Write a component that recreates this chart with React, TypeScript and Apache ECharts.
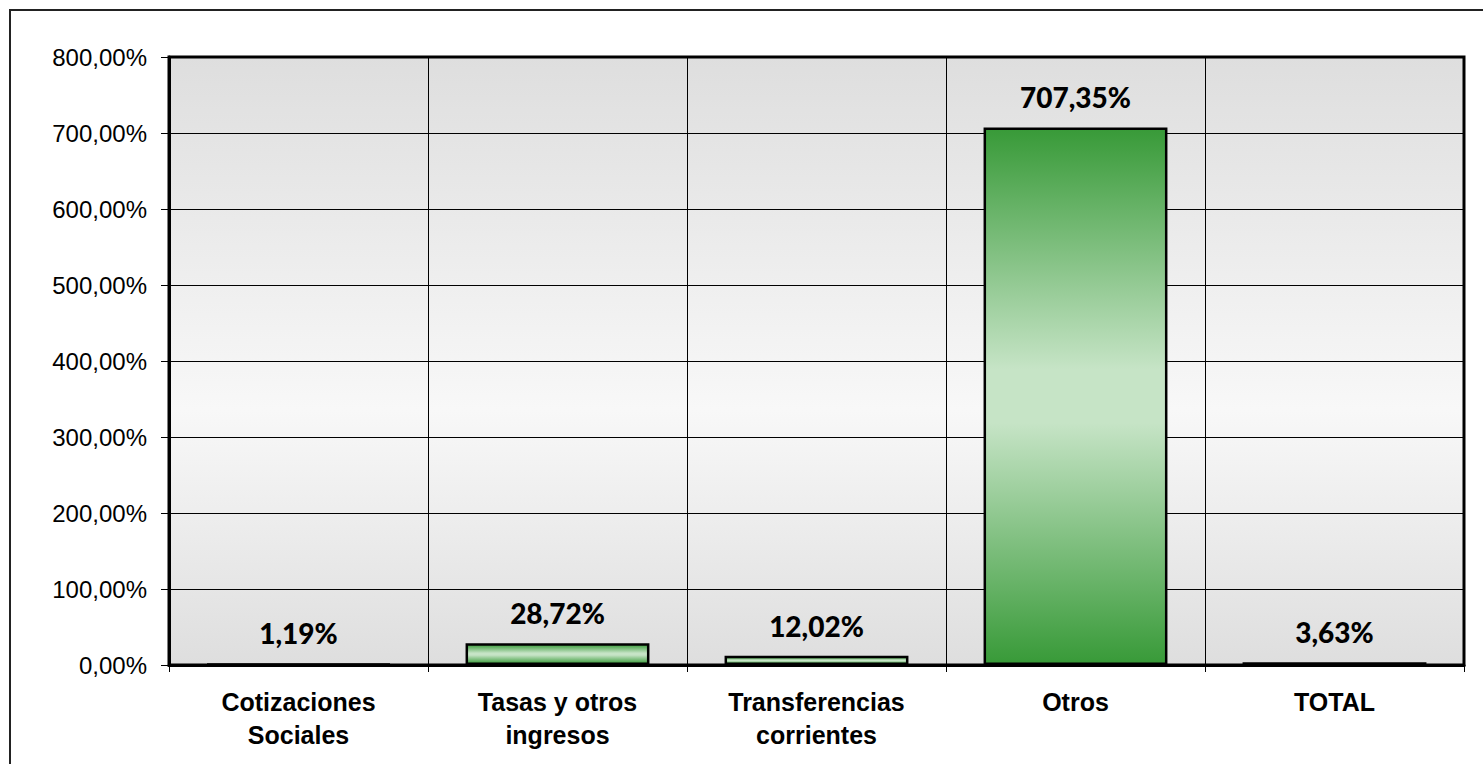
import React, { useEffect, useRef } from "react";
import * as echarts from "echarts";

const categories = [
  "Cotizaciones\nSociales",
  "Tasas y otros\ningresos",
  "Transferencias\ncorrientes",
  "Otros",
  "TOTAL",
];
const values = [1.19, 28.72, 12.02, 707.35, 3.63];
const yMin = 0;
const yMax = 800;
const yStep = 100;

const fmt = (v: number) => v.toFixed(2).replace(".", ",") + "%";

export default function App() {
  const ref = useRef<HTMLDivElement>(null);
  useEffect(() => {
    if (!ref.current) return;
    const chart = echarts.init(ref.current, null, { renderer: "svg" });
    const barGrad = new echarts.graphic.LinearGradient(0, 0, 0, 1, [
      { offset: 0, color: "#389a38" },
      { offset: 0.45, color: "#c6e4c6" },
      { offset: 0.55, color: "#c6e4c6" },
      { offset: 1, color: "#389a38" },
    ]);
    const bgGrad = new echarts.graphic.LinearGradient(0, 0, 0, 1, [
      { offset: 0, color: "#dedede" },
      { offset: 0.58, color: "#f8f8f8" },
      { offset: 1, color: "#dedede" },
    ]);
    chart.setOption({
      animation: false,
      graphic: [
        {
          type: "rect",
          shape: { x: 10, y: 10, width: 1500, height: 800 },
          style: { fill: "none", stroke: "#222", lineWidth: 2 },
          z: -1,
        },
      ],
      grid: {
        left: 169,
        right: 19,
        top: 57,
        bottom: 99,
        show: true,
        backgroundColor: bgGrad,
        borderColor: "#000",
        borderWidth: 3,
      },
      xAxis: {
        type: "category",
        data: categories,
        axisLine: { show: true, lineStyle: { color: "#000", width: 3 } },
        axisTick: { show: true, length: 7, lineStyle: { color: "#000", width: 1 } },
        splitLine: { show: true, lineStyle: { color: "#000", width: 1 } },
        axisLabel: {
          color: "#000",
          fontFamily: "Liberation Sans, Arial, sans-serif",
          fontWeight: "bold",
          fontSize: 25,
          lineHeight: 33,
          margin: 20,
          verticalAlign: "top",
        },
      },
      yAxis: {
        type: "value",
        min: yMin,
        max: yMax,
        interval: yStep,
        axisLine: { show: true, lineStyle: { color: "#000", width: 3 } },
        axisTick: { show: true, length: 8, lineStyle: { color: "#000", width: 1 } },
        splitLine: { show: true, lineStyle: { color: "#000", width: 1 } },
        axisLabel: {
          color: "#000",
          fontFamily: "Liberation Sans, Arial, sans-serif",
          fontSize: 24,
          margin: 22,
          formatter: (v: number) => fmt(v),
        },
      },
      series: [
        {
          type: "bar",
          data: values,
          barWidth: "71%",
          itemStyle: { color: barGrad, borderColor: "#000", borderWidth: 2.5 },
          label: {
            show: true,
            position: "top",
            distance: 16,
            color: "#000",
            fontFamily: "Lato, sans-serif",
            fontWeight: 900,
            fontSize: 28,
            formatter: (p: any) => fmt(p.value),
          },
        },
      ],
    });
    return () => chart.dispose();
  }, []);
  return (
    <div
      ref={ref}
      style={{ position: "fixed", left: 0, top: 0, width: 1483, height: 764, background: "#fff" }}
    />
  );
}
